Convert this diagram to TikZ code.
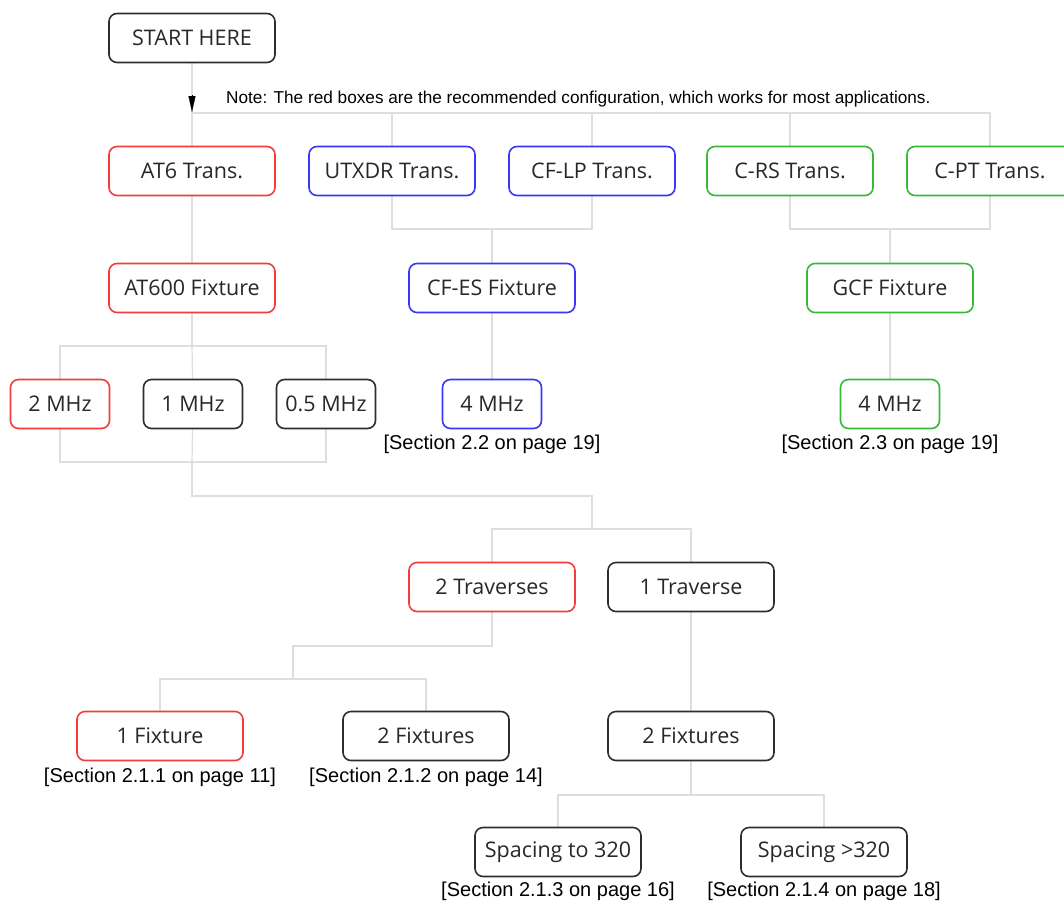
\documentclass[tikz,border=0pt]{standalone}
\usepackage{fontspec}
\setmainfont{Open Sans}
\newfontfamily\notefont{Liberation Sans}
\usetikzlibrary{arrows.meta,backgrounds}
\definecolor{boxred}{RGB}{245,60,60}
\definecolor{boxblue}{RGB}{55,55,245}
\definecolor{boxgreen}{RGB}{55,185,55}
\definecolor{boxblack}{RGB}{45,45,45}
\definecolor{linegray}{RGB}{222,222,222}
\definecolor{txt}{RGB}{40,40,40}
\tikzset{
  box/.style={draw, rounded corners=8pt, line width=1.6pt, fill=white, text=txt,
    minimum width=166pt, minimum height=49pt, inner sep=0pt,
    font=\fontsize{21.5}{25}\selectfont},
  smallbox/.style={box, minimum width=99pt},
  rbox/.style={box, draw=boxred},
  bbox/.style={box, draw=boxblue},
  gbox/.style={box, draw=boxgreen},
  kbox/.style={box, draw=boxblack},
  ref/.style={inner sep=0pt, text=black, font=\notefont\fontsize{20}{23}\selectfont},
  conn/.style={draw=linegray, line width=1.2pt},
}
\begin{document}
\begin{tikzpicture}[x=1pt,y=-1pt]
\useasboundingbox (0,0) rectangle (1064,902);
% nodes
\node[kbox] (start) at (192,38) {START HERE};
\node[rbox] (at6) at (192,171) {AT6 Trans.};
\node[bbox] (utx) at (392,171) {UTXDR Trans.};
\node[bbox] (cflp) at (592,171) {CF-LP Trans.};
\node[gbox] (crs) at (790,171) {C-RS Trans.};
\node[gbox] (cpt) at (990,171) {C-PT Trans.};
\node[rbox] (at600) at (192,288) {AT600 Fixture};
\node[bbox] (cfes) at (492,288) {CF-ES Fixture};
\node[gbox] (gcf) at (890,288) {GCF Fixture};
\node[rbox,smallbox,draw=boxred] (mhz2) at (60,404) {2 MHz};
\node[kbox,smallbox,draw=boxblack] (mhz1) at (193,404) {1 MHz};
\node[kbox,smallbox,draw=boxblack] (mhz05) at (326,404) {0.5 MHz};
\node[bbox,smallbox,draw=boxblue] (b4) at (492,404) {4 MHz};
\node[gbox,smallbox,draw=boxgreen] (g4) at (890,404) {4 MHz};
\node[rbox] (trav2) at (492,587) {2 Traverses};
\node[kbox] (trav1) at (691,587) {1 Traverse};
\node[rbox] (fix1) at (160,736) {1 Fixture};
\node[kbox] (fix2a) at (426,736) {2 Fixtures};
\node[kbox] (fix2b) at (691,736) {2 Fixtures};
\node[kbox] (sp1) at (558,852) {Spacing to 320};
\node[kbox] (sp2) at (824,852) {Spacing >320};
% reference labels
\node[ref] (l22) at (492,444) {[Section 2.2 on page 19]};
\node[ref] (l23) at (890,444) {[Section 2.3 on page 19]};
\node[ref] (l211) at (160,777) {[Section 2.1.1 on page 11]};
\node[ref] (l212) at (426,777) {[Section 2.1.2 on page 14]};
\node[ref] (l213) at (558,891) {[Section 2.1.3 on page 16]};
\node[ref] (l214) at (824,891) {[Section 2.1.4 on page 18]};
\node[anchor=base west, inner sep=0pt, text=black, font=\notefont\fontsize{17.2}{20}\selectfont] (note) at (226,103) {Note: The red boxes are the recommended configuration, which works for most applications.};
% junctions
\coordinate (j0) at (192,113);
\coordinate (a0) at (192,95);
\coordinate (a1) at (192,112);
\coordinate (j1) at (492,229);
\coordinate (j2) at (890,229);
\coordinate (j3) at (192,346);
\coordinate (j4) at (192,462);
\coordinate (j5) at (592,496);
\coordinate (j6) at (592,529);
\coordinate (j7) at (492,646);
\coordinate (j8) at (293,646);
\coordinate (j9) at (293,679);
\coordinate (j10) at (691,795);
\begin{scope}[on background layer]
\draw[conn] (start) -- (j0);
\draw[conn] (j0) -- (at6);
\draw[conn] (j0) -| (utx);
\draw[conn] (j0) -| (cflp);
\draw[conn] (j0) -| (crs);
\draw[conn] (j0) -| (cpt);
\draw[conn] (at6) -- (at600);
\draw[conn] (utx) |- (j1);
\draw[conn] (cflp) |- (j1);
\draw[conn] (j1) -- (cfes);
\draw[conn] (crs) |- (j2);
\draw[conn] (cpt) |- (j2);
\draw[conn] (j2) -- (gcf);
\draw[conn] (cfes) -- (b4);
\draw[conn] (gcf) -- (g4);
\draw[conn] (at600) -- (j3);
\draw[conn] (j3) -| (mhz2);
\draw[conn] (j3) -| (mhz05);
\draw[conn] (j3) -- (mhz1);
\draw[conn] (mhz2) |- (j4);
\draw[conn] (mhz05) |- (j4);
\draw[conn] (mhz1) -- (j4);
\draw[conn] (j4) |- (j5) -- (j6);
\draw[conn] (j6) -| (trav2);
\draw[conn] (j6) -| (trav1);
\draw[conn] (trav2) -- (j7) -- (j8) -- (j9);
\draw[conn] (j9) -| (fix1);
\draw[conn] (j9) -| (fix2a);
\draw[conn] (trav1) -- (fix2b);
\draw[conn] (fix2b) -- (j10);
\draw[conn] (j10) -| (sp1);
\draw[conn] (j10) -| (sp2);
\end{scope}
\draw[line width=0.1pt, draw=black, -{Triangle[width=7pt,length=16pt,color=black]}] (a0) -- (a1);
\end{tikzpicture}
\end{document}
